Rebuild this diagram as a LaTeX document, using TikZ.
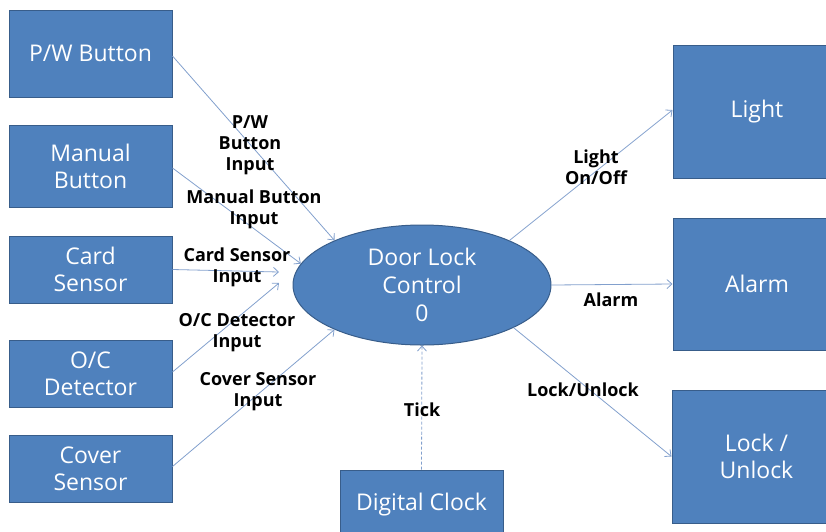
\documentclass[tikz,border=0pt]{standalone}
\usepackage{fontspec}
\setmainfont{Open Sans}
\usetikzlibrary{arrows.meta,shapes.geometric}
\definecolor{boxblue}{RGB}{79,129,189}
\definecolor{boxedge}{RGB}{56,93,138}
\definecolor{arr}{RGB}{130,160,205}
\begin{document}
\begin{tikzpicture}[x=1pt,y=-1pt,
  blk/.style={draw=boxedge, line width=1pt, fill=boxblue, text=white,
    font=\fontsize{23}{27}\selectfont, align=center, inner sep=0pt},
  lbl/.style={font=\bfseries\fontsize{18}{21}\selectfont, align=center, text=black, inner sep=0pt},
  flow/.style={draw=arr, line width=0.8pt, -{Straight Barb[length=5pt,width=9pt]}}]
\useasboundingbox (0,0) rectangle (826,531);
\clip (0,0) rectangle (826,531);
% left boxes
\node[blk, minimum width=163pt, minimum height=87pt] (pw) at (90.5,53.5) {P/W Button};
\node[blk, minimum width=163pt, minimum height=82pt] (man) at (90.5,166) {Manual\\Button};
\node[blk, minimum width=163pt, minimum height=67pt] (card) at (90.5,269.5) {Card\\Sensor};
\node[blk, minimum width=163pt, minimum height=67pt] (oc) at (90.5,373.5) {O/C\\Detector};
\node[blk, minimum width=163pt, minimum height=67pt] (cov) at (90.5,468.5) {Cover\\Sensor};
% right boxes
\node[blk, minimum width=168pt, minimum height=133pt] (light) at (757,111.5) {Light};
\node[blk, minimum width=168pt, minimum height=132pt] (alarm) at (757,284) {Alarm};
\node[blk, minimum width=169pt, minimum height=133pt] (lock) at (756.5,456.5) {Lock /\\Unlock};
% bottom box
\node[blk, minimum width=163pt, minimum height=70pt] (clk) at (421.5,505) {Digital Clock};
% central process
\node[blk, ellipse, minimum width=258pt, minimum height=120pt, font=\fontsize{23}{28}\selectfont] (ctrl) at (422,285) {Door Lock\\Control\\0};
% free ends
\coordinate (cardend) at (279,272);
\coordinate (ocend) at (279,283);
% connectors
\draw[flow] ([yshift=-2.5pt]pw.east) -- (ctrl.153);
\draw[flow] ([yshift=-2pt]man.east) -- (ctrl.170);
\draw[flow] (card.east) -- (cardend);
\draw[flow] ([yshift=1.5pt]oc.east) -- (ocend);
\draw[flow] ([yshift=2pt]cov.east) -- (ctrl.207);
\draw[flow] (ctrl.27) -- ([yshift=1.5pt]light.west);
\draw[flow] (ctrl.east) -- (alarm.west);
\draw[flow] (ctrl.335) -- (lock.west);
\draw[flow, dashed, dash pattern=on 3pt off 2pt] (clk.north) -- (ctrl.south);
% labels
\node[lbl] (pwl) at (250,145) {P/W\\Button\\Input};
\node[lbl] (manl) at (254,209) {Manual Button\\Input};
\node[lbl] (cardl) at (237,267) {Card Sensor\\Input};
\node[lbl] (ocl) at (237,333) {O/C Detector\\Input};
\node[lbl] (covl) at (258,392) {Cover Sensor\\Input};
\node[lbl] (lightl) at (596,167) {Light\\On/Off};
\node[lbl] (alarml) at (611,300) {Alarm};
\node[lbl] (lockl) at (583,390) {Lock/Unlock};
\node[lbl] (tickl) at (422,410) {Tick};
\end{tikzpicture}
\end{document}
